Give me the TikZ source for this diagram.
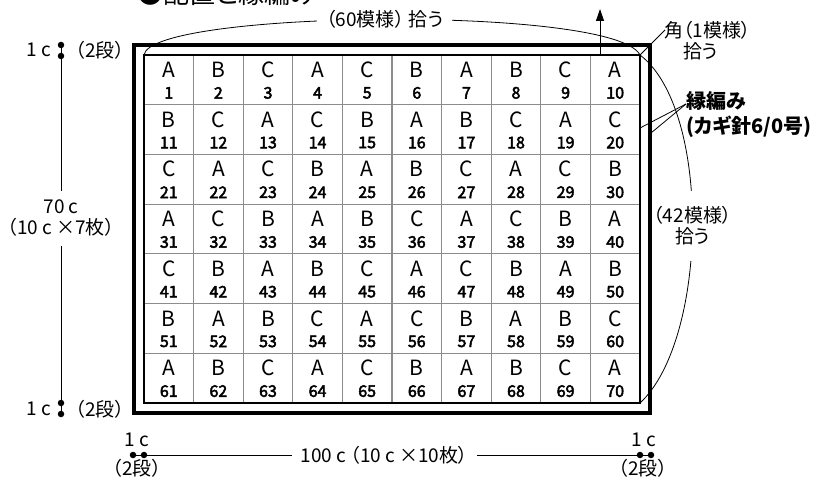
\documentclass[tikz,border=0pt]{standalone}
\usepackage{fontspec}
\setmainfont{Noto Sans CJK JP}[RawFeature={+palt}]
\newfontfamily\numfont{Noto Sans CJK JP}[FakeBold=3]
\usetikzlibrary{arrows.meta}
\tikzset{%
  thickframe/.style={line width=4.5pt},
  innerframe/.style={line width=1.6pt},
  gridline/.style={draw=black!45, line width=1.2pt},
  leader/.style={line width=0.8pt},
  myarrow/.style={-{Triangle[width=8pt,length=12pt]}, line width=1pt},
  dimdot/.style={circle, fill=black, inner sep=0pt, minimum size=6.5pt},
  mylabel/.style={font=\fontsize{19}{21}\selectfont, inner sep=1pt, align=center},
  cellletter/.style={font=\fontsize{21}{21}\selectfont, inner sep=0pt},
  cellnum/.style={font=\numfont\fontsize{16}{16}\selectfont, inner sep=0pt}
}

\begin{document}
\begin{tikzpicture}[x=1pt,y=-1pt]
  \useasboundingbox (0,0) rectangle (816,478);
  % title, cut off at the top
  \node[anchor=base west, font=\fontsize{26}{26}\selectfont, inner sep=0pt] (title) at (137,4) {●配置と縁編み};

  \coordinate (out-nw) at (134,45);
  \coordinate (out-se) at (650,413);
  \coordinate (in-nw) at (144,55);
  \coordinate (in-ne) at (640,55);
  \coordinate (in-se) at (640,403);

  % grid
  \foreach \k in {1,...,9} \draw[gridline] ({144+49.6*\k},55) -- ({144+49.6*\k},403);
  \foreach \k in {1,...,6} \draw[gridline] (144,{55+49.71*\k}) -- (640,{55+49.71*\k});
  \draw[innerframe] (in-nw) rectangle (in-se);
  \draw[thickframe] (out-nw) rectangle (out-se);

  % motifs
  \foreach \row [count=\i from 0] in {{A,B,C,A,C,B,A,B,C,A},{B,C,A,C,B,A,B,C,A,C},
      {C,A,C,B,A,B,C,A,C,B},{A,C,B,A,B,C,A,C,B,A},{C,B,A,B,C,A,C,B,A,B},
      {B,A,B,C,A,C,B,A,B,C},{A,B,C,A,C,B,A,B,C,A}} {
    \foreach \l [count=\j from 0] in \row {
      \pgfmathtruncatemacro\num{10*\i+\j+1}
      \node[cellletter] (L\num) at ({144+49.6*(\j+0.5)},{55+49.71*(\i+0.5)-10}) {\l};
      \node[cellnum] (N\num) at ({144+49.6*(\j+0.5)},{55+49.71*(\i+0.5)+13}) {\num};
    }
  }

  % pick-up arcs
  \draw[leader] (in-nw) .. controls (150,10) and (615,5) .. (in-ne)
    node[pos=.5, mylabel, fill=white, inner xsep=9pt] (toplbl) {（60模様） 拾う};
  \draw[leader] (in-ne) .. controls (712,110) and (708,340) .. (in-se)
    node[pos=.5, mylabel, fill=white, inner xsep=0pt, inner ysep=16pt] (sidelbl) {（42模様）\\拾う};

  % start arrow
  \coordinate (arrowfoot) at (600,55);
  \coordinate (arrowtip) at (600,9);
  \draw[myarrow] (arrowfoot) -- (arrowtip);

  % corner
  \coordinate (cornertip) at (665,30);
  \draw[leader] (in-ne) -- (cornertip);
  \node[mylabel, anchor=north west, align=left, inner sep=0pt] (cornerlbl) at (664,21) {角（1模様）\\\hspace{1em}拾う};

  % edging
  \coordinate (edgetip) at (686,104);
  \coordinate (edge-in) at (640,128);
  \coordinate (edge-out) at (651,133);
  \draw[leader] (edgetip) -- (edge-in);
  \draw[leader] (edgetip) -- (edge-out);
  \node[anchor=north west, align=left, inner sep=0pt, font=\bfseries\fontsize{20}{25}\selectfont] (edgelbl) at (686,91) {縁編み\\(カギ針6/0号)};

  % height
  \node[dimdot] (v1) at (61,45) {};
  \node[dimdot] (v2) at (61,56) {};
  \node[dimdot] (v3) at (61,403) {};
  \node[dimdot] (v4) at (61,414) {};
  \draw[leader] (v1) -- node[pos=.469, mylabel, fill=white, inner ysep=9pt] (vlbl) {70 c\\（10 c ×7枚）} (v4);
  \node[mylabel] (vtop1) at (39,50) {1 c};
  \node[mylabel] (vtop2) at (100,50) {（2段）};
  \node[mylabel] (vbot1) at (39,409) {1 c};
  \node[mylabel] (vbot2) at (100,409) {（2段）};

  % width
  \node[dimdot] (h1) at (133,455) {};
  \node[dimdot] (h2) at (144,455) {};
  \node[dimdot] (h3) at (640,455) {};
  \node[dimdot] (h4) at (651,455) {};
  \draw[leader] (h1) -- node[pos=.485, mylabel, fill=white, inner xsep=9pt] (hlbl) {100 c （10 c ×10枚）} (h4);
  \node[mylabel] (hleft1) at (137,440) {1 c};
  \node[mylabel] (hleft2) at (137,468) {（2段）};
  \node[mylabel] (hright1) at (644,440) {1 c};
  \node[mylabel] (hright2) at (643,468) {（2段）};
\end{tikzpicture}
\end{document}
